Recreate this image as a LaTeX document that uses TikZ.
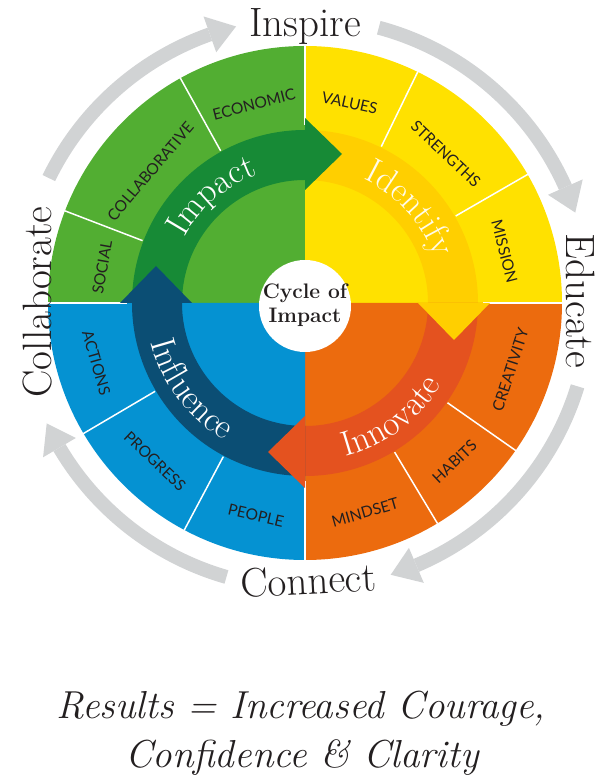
\documentclass[tikz,border=0pt]{standalone}
\usepackage{fontspec}
\newfontfamily\labelfont{Lato}
\usetikzlibrary{decorations.text}
\definecolor{qgreen}{HTML}{52AE32}
\definecolor{bgreen}{HTML}{178A36}
\definecolor{qyellow}{HTML}{FFE100}
\definecolor{byellow}{HTML}{FFCF00}
\definecolor{qorange}{HTML}{EC6B0E}
\definecolor{borange}{HTML}{E4521F}
\definecolor{qblue}{HTML}{0592D2}
\definecolor{bblue}{HTML}{0B4E74}
\definecolor{ringgray}{HTML}{D1D3D4}
\definecolor{ink}{HTML}{231F20}
\definecolor{cream}{HTML}{FFFBEA}
\newcommand\bandfont{\fontsize{35}{35}\selectfont}
\tikzset{
  bigword/.style={font=\fontsize{41}{41}\selectfont, text=ink, inner sep=0pt},
  seglabel/.style={font=\labelfont\fontsize{15.5}{15.5}\selectfont, text=ink, inner sep=0pt},
  divider/.style={white, line width=1.5pt},
}
\begin{document}
\begin{tikzpicture}[x=1pt,y=1pt]
\useasboundingbox (-305,-480) rectangle (309,303);
% quadrants
\fill[qgreen]  (0,0) -- (180:257) arc[start angle=180,end angle=90,radius=257] -- cycle;
\fill[qyellow] (0,0) -- (90:257) arc[start angle=90,end angle=0,radius=257] -- cycle;
\fill[qorange] (0,0) -- (0:257) arc[start angle=0,end angle=-90,radius=257] -- cycle;
\fill[qblue]   (0,0) -- (-90:257) arc[start angle=-90,end angle=-180,radius=257] -- cycle;
% bands
\foreach \s/\e/\c in {180/90/bgreen, 90/0/byellow, 0/-90/borange, -90/-180/bblue}{
  \fill[\c] (\s:123) arc[start angle=\s,end angle=\e,radius=123] -- (\e:173) arc[start angle=\e,end angle=\s,radius=173] -- cycle;
}
% dividers
\foreach \a in {90,180,0,-90}{ \draw[divider] (\a:178) -- (\a:257.5); }
\foreach \a in {119,159,64,30,-35,-59,-118,-149.5}{ \draw[divider] (\a:174) -- (\a:257.5); }
% arrowheads
\foreach \e/\c in {90/bgreen, 0/byellow, -90/borange, 180/bblue}{
  \fill[\c] (\e:113) -- (\e:185) -- ({149*cos(\e)+37*sin(\e)},{149*sin(\e)-37*cos(\e)}) -- cycle;
}
% outer gray arrows
\foreach \a/\b in {154/104, 75/18.5, -17/-72.5, -106/-155}{
  \pgfmathsetmacro\c{\b+5.5}
  \fill[ringgray] (\a:278) arc[start angle=\a,end angle=\c,radius=278] -- (\c:292) arc[start angle=\c,end angle=\a,radius=292] -- cycle;
  \fill[ringgray] (\c:266) -- (\c:304) -- (\b:285) -- cycle;
}
% segment labels
\node[seglabel, rotate=14.4]  (economic) at (104.4:205) {ECONOMIC};
\node[seglabel, rotate=49.6]  (collab)   at (139.6:203) {COLLABORATIVE};
\node[seglabel, rotate=80]    (social)   at (170:206) {SOCIAL};
\node[seglabel, rotate=-12.6] (values)   at (77.4:205) {VALUES};
\node[seglabel, rotate=-43.4] (strength) at (46.6:205) {STRENGTHS};
\node[seglabel, rotate=-75.5] (mission)  at (14.5:206) {MISSION};
\node[seglabel, rotate=72]    (creat)    at (-18:216) {CREATIVITY};
\node[seglabel, rotate=43.3]  (habits)   at (-46.7:218) {HABITS};
\node[seglabel, rotate=16]    (mindset)  at (-74:218) {MINDSET};
\node[seglabel, rotate=-13]   (people)   at (-103:218) {PEOPLE};
\node[seglabel, rotate=-43.5] (progress) at (-133.5:218) {PROGRESS};
\node[seglabel, rotate=-74]   (actions)  at (-164:217) {ACTIONS};
% band words
\path[decorate, decoration={text along path, text align=center, text={|\color{white}\bandfont|Impact}}]
  (171:137) arc[start angle=171,end angle=91,radius=137];
\path[decorate, decoration={text along path, text align=center, text={|\color{cream}\bandfont|Identify}}]
  (82:137) arc[start angle=82,end angle=2,radius=137];
\path[decorate, decoration={text along path, text align=center, text={|\color{white}\bandfont|Innovate}}]
  (-93:159) arc[start angle=-93,end angle=-13,radius=159];
\path[decorate, decoration={text along path, text align=center, text={|\color{white}\bandfont|Influence}}]
  (177:159) arc[start angle=177,end angle=257,radius=159];
% centre
\fill[white] (0,-3) circle[radius=46];
\node[align=center, font=\bfseries\fontsize{21}{24}\selectfont, text=ink, inner sep=0pt] (core) at (0,-2) {Cycle of\\Impact};
% outer words
\node[bigword, anchor=base] (inspire) at (0,266) {Inspire};
\node[bigword, anchor=base, rotate=-90] (educate) at (261,2) {Educate};
\node[bigword, anchor=base, rotate=3] (connect) at (4,-291) {Connect};
\node[bigword, anchor=base, rotate=90] (collaborate) at (-253,1) {Collaborate};
% results
\node[anchor=base, font=\itshape\fontsize{39}{39}\selectfont, text=ink, inner sep=0pt] (res1) at (-4,-415) {Results = Increased Courage,};
\node[anchor=base, font=\itshape\fontsize{39}{39}\selectfont, text=ink, inner sep=0pt] (res2) at (-3,-464) {Confidence \& Clarity};
\end{tikzpicture}
\end{document}
